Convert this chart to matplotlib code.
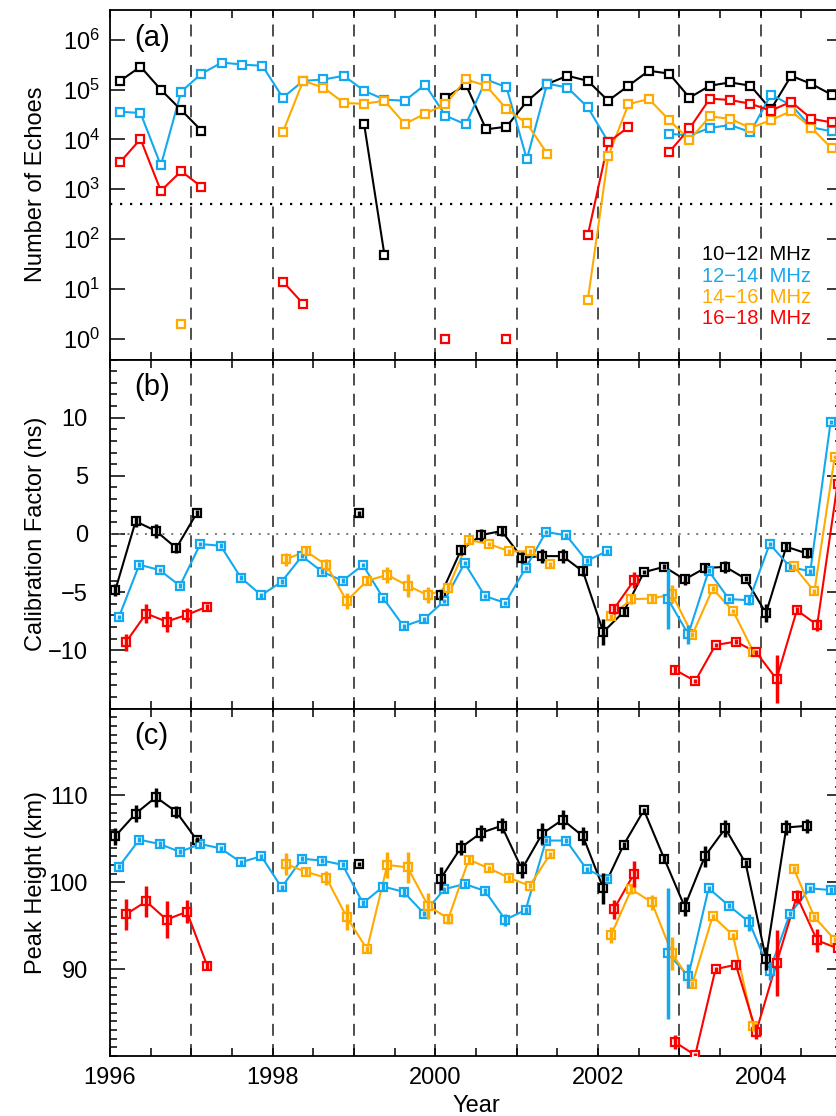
import numpy as np
import matplotlib
matplotlib.use('Agg')
import matplotlib.pyplot as plt
from matplotlib.ticker import MultipleLocator, FixedLocator, NullLocator

plt.rcParams['font.family'] = ['Liberation Sans', 'DejaVu Sans']

nan = np.nan

#%% data (quarterly bins)

quarters = [1996.125, 1996.375, 1996.625, 1996.875, 1997.125, 1997.375, 1997.625, 1997.875,
            1998.125, 1998.375, 1998.625, 1998.875, 1999.125, 1999.375, 1999.625, 1999.875,
            2000.125, 2000.375, 2000.625, 2000.875, 2001.125, 2001.375, 2001.625, 2001.875,
            2002.125, 2002.375, 2002.625, 2002.875, 2003.125, 2003.375, 2003.625, 2003.875,
            2004.125, 2004.375, 2004.625, 2004.875]

bands = ['10\u221212  MHz', '12\u221214  MHz', '14\u221216  MHz', '16\u221218  MHz']

# (a) number of echoes
echo_10_12 = [150000, 290000, 100000, 39000, 15000, nan, nan, nan,
              nan, nan, nan, nan, 20000, 47, nan, nan,
              69000, 126000, 16000, 18000, 58000, 130000, 190000, 150000,
              60000, 120000, 240000, 210000, 69000, 120000, 140000, 120000,
              40000, 190000, 130000, 79000]
echo_12_14 = [36000, 34000, 3000, 91000, 210000, 350000, 320000, 300000,
              69000, 150000, 160000, 190000, 95000, 63000, 60000, 126000,
              30000, 20000, 160000, 112000, 4000, 132000, 110000, 44000,
              9000, nan, nan, 13000, 12000, 17000, 19500, 14000,
              79000, 49000, 17500, 14500]
echo_14_16 = [nan, nan, nan, 2, nan, nan, nan, nan,
              14000, 150000, 110000, 54000, 52000, 60000, 20500, 33000,
              51000, 160000, 120000, 41000, 21000, 5200, nan, 6,
              4600, 51000, 65000, 24500, 9800, 29000, 26000, 17000,
              24500, 37000, 17000, 6600]
echo_16_18 = [3500, 10200, 930, 2300, 1120, nan, nan, nan,
              14, 5, nan, nan, nan, nan, nan, nan,
              1, nan, nan, 1, nan, nan, nan, 120,
              8700, 17800, nan, 5600, 16600, 66000, 62000, 52000,
              38000, 57000, 26000, 22000]
echo_min = 500

# (b) calibration factor (ns)
cal_10_12 = [-4.83, 1.09, 0.26, -1.21, 1.78, nan, nan, nan,
             nan, nan, nan, nan, 1.78, nan, nan, nan,
             -5.26, -1.38, -0.09, 0.26, -2.04, -1.90, -1.90, -3.22,
             -8.42, -6.70, -3.28, -2.82, -3.91, -2.93, -2.82, -3.85,
             -6.81, -1.09, -1.67, nan]
cal_10_12_err = [0.5, 0.5, 0.6, 0.45, 0.3, nan, nan, nan,
                 nan, nan, nan, nan, 0.2, nan, nan, nan,
                 0.4, 0.4, 0.5, 0.4, 0.45, 0.6, 0.6, 0.4,
                 1.15, 0.3, 0.2, 0.2, 0.5, 0.4, 0.5, 0.2,
                 0.75, 0.4, 0.4, nan]
cal_12_14 = [-7.13, -2.64, -3.10, -4.45, -0.86, -1.01, -3.76, -5.26,
             -4.11, -1.90, -3.25, -4.02, -2.67, -5.52, -7.93, -7.33,
             -5.75, -2.50, -5.34, -5.92, -2.93, 0.17, -0.11, -2.30,
             -1.49, nan, nan, -5.60, -8.62, -3.16, -5.60, -5.69,
             -0.86, -2.82, -3.22, 9.63]
cal_12_14_err = [0.2, 0.2, 0.2, 0.2, 0.2, 0.2, 0.2, 0.2,
                 0.2, 0.2, 0.2, 0.2, 0.2, 0.2, 0.2, 0.2,
                 0.2, 0.2, 0.2, 0.2, 0.2, 0.2, 0.2, 0.2,
                 0.2, nan, nan, 2.6, 0.8, 0.2, 0.2, 0.4,
                 0.2, 0.2, 0.2, 0.2]
cal_14_16 = [nan, nan, nan, nan, nan, nan, nan, nan,
             -2.18, -1.49, -2.67, -5.75, -4.02, -3.51, -4.45, -5.26,
             -4.60, -0.52, -0.86, -1.49, -1.49, -2.61, nan, nan,
             -7.07, -5.60, -5.55, -5.17, -8.65, -4.71, -6.61, -10.11,
             nan, -2.79, -4.94, 6.61]
cal_14_16_err = [nan, nan, nan, nan, nan, nan, nan, nan,
                 0.55, 0.35, 0.5, 0.7, 0.3, 0.7, 1.0, 0.7,
                 0.3, 0.3, 0.2, 0.2, 0.2, 0.2, nan, nan,
                 0.2, 0.4, 0.4, 0.8, 0.2, 0.2, 0.2, 0.2,
                 nan, 0.2, 0.2, 0.2]
cal_16_18 = [-9.31, -6.84, -7.53, -6.95, -6.24, nan, nan, nan,
             nan, nan, nan, nan, nan, nan, nan, nan,
             nan, nan, nan, nan, nan, nan, nan, nan,
             -6.44, -3.97, nan, -11.67, -12.64, -9.54, -9.25, -10.17,
             -12.47, -6.55, -7.82, 4.31]
cal_16_18_err = [0.75, 0.85, 0.9, 0.6, 0.25, nan, nan, nan,
                 nan, nan, nan, nan, nan, nan, nan, nan,
                 nan, nan, nan, nan, nan, nan, nan, nan,
                 0.45, 0.7, nan, 0.3, 0.2, 0.2, 0.2, 0.2,
                 2.1, 0.3, 0.5, 0.3]

# (c) peak height (km)
hgt_10_12 = [105.3, 107.9, 109.8, 108.1, 104.9, nan, nan, nan,
             nan, nan, nan, nan, 102.1, nan, nan, nan,
             100.4, 104.0, 105.7, 106.5, 101.5, 105.6, 107.2, 105.3,
             99.3, 104.3, 108.3, 102.7, 97.2, 103.0, 106.2, 102.2,
             91.2, 106.3, 106.5, nan]
hgt_10_12_err = [1.0, 1.0, 1.1, 0.7, 0.3, nan, nan, nan,
                 nan, nan, nan, nan, 0.2, nan, nan, nan,
                 1.3, 0.9, 0.9, 0.85, 1.0, 1.2, 1.1, 1.05,
                 1.8, 0.3, 0.3, 0.4, 1.1, 1.2, 1.0, 0.4,
                 1.3, 0.9, 0.8, nan]
hgt_12_14 = [101.8, 104.9, 104.4, 103.5, 104.4, 103.9, 102.3, 103.0,
             99.4, 102.7, 102.5, 102.0, 97.6, 99.5, 98.9, 96.4,
             99.2, 99.8, 99.0, 95.7, 96.8, 104.8, 104.8, 101.5,
             100.4, nan, nan, 91.8, 89.2, 99.3, 97.3, 95.4,
             89.8, 96.4, 99.3, 99.1]
hgt_12_14_err = [0.3, 0.3, 0.3, 0.3, 0.3, 0.3, 0.3, 0.3,
                 0.3, 0.3, 0.3, 0.3, 0.3, 0.4, 0.6, 0.3,
                 0.3, 0.3, 0.3, 0.7, 0.3, 0.3, 0.3, 0.3,
                 0.3, nan, nan, 7.5, 1.4, 0.3, 0.3, 1.0,
                 1.0, 0.3, 0.3, 0.3]
hgt_14_16 = [nan, nan, nan, nan, nan, nan, nan, nan,
             102.1, 101.2, 100.5, 96.0, 92.3, 102.0, 101.7, 97.3,
             95.8, 102.6, 101.6, 100.5, 99.6, 103.2, nan, nan,
             93.9, 99.2, 97.7, 91.8, 88.3, 96.1, 93.9, 83.4,
             nan, 101.5, 96.0, 93.4]
hgt_14_16_err = [nan, nan, nan, nan, nan, nan, nan, nan,
                 1.25, 0.5, 0.8, 1.5, 0.4, 1.5, 1.8, 1.5,
                 0.6, 0.4, 0.3, 0.3, 0.3, 0.3, nan, nan,
                 0.9, 0.5, 0.85, 1.9, 0.3, 0.3, 0.3, 0.5,
                 nan, 0.4, 0.3, 0.3]
hgt_16_18 = [96.3, 97.8, 95.7, 96.6, 90.4, nan, nan, nan,
             nan, nan, nan, nan, nan, nan, nan, nan,
             nan, nan, nan, nan, nan, nan, nan, nan,
             96.9, 101.0, nan, 81.6, 80.1, 90.0, 90.5, 82.8,
             90.7, 98.4, 93.3, 92.4]
hgt_16_18_err = [1.8, 1.8, 2.1, 1.3, 0.5, nan, nan, nan,
                 nan, nan, nan, nan, nan, nan, nan, nan,
                 nan, nan, nan, nan, nan, nan, nan, nan,
                 1.1, 1.5, nan, 0.85, 0.3, 0.3, 0.5, 0.9,
                 3.75, 0.75, 1.35, 0.5]

#%% style

colors = ['black', '#14A9EE', '#FFAA00', '#FF0000']
shifts = [-0.06, -0.015, 0.035, 0.07]   # small x offsets in (b) and (c)
t = np.array(quarters)

W_PX, H_PX = 836, 1116
fig = plt.figure(figsize=(W_PX/100, H_PX/100), dpi=100)

def add_panel(top, bot):
    # axes run past the right edge of the picture, like the cropped original
    return fig.add_axes([110/W_PX, 1 - bot/H_PX, 732/W_PX, (bot - top)/H_PX])

ax_a = add_panel(10, 359.5)
ax_b = add_panel(359.5, 708.5)
ax_c = add_panel(708.5, 1056)

def draw(ax, x, y, err=None):
    for xi, yi, ei, c in zip(x, y, err if err else [None]*4, colors):
        ax.plot(xi, yi, color=c, lw=1.5, zorder=3)
        ax.plot(xi, yi, ls='none', marker='s', ms=5.5, mew=1.6, mec=c, mfc='white', zorder=4)
        if ei is not None:
            ax.errorbar(xi, yi, yerr=ei, fmt='none', ecolor=c, elinewidth=2.5, capsize=0, zorder=5)

draw(ax_a, [t]*4, [echo_10_12, echo_12_14, echo_14_16, echo_16_18])
draw(ax_b, [t + s for s in shifts], [cal_10_12, cal_12_14, cal_14_16, cal_16_18],
     [cal_10_12_err, cal_12_14_err, cal_14_16_err, cal_16_18_err])
draw(ax_c, [t + s for s in shifts], [hgt_10_12, hgt_12_14, hgt_14_16, hgt_16_18],
     [hgt_10_12_err, hgt_12_14_err, hgt_14_16_err, hgt_16_18_err])

ax_a.axhline(echo_min, color='black', lw=1.6, ls=(0, (1, 3.5)), zorder=2)
ax_b.axhline(0, color='#777777', lw=1.4, ls=(0, (1, 3.5)), zorder=2)

for ax in [ax_a, ax_b, ax_c]:
    for yr in range(1997, 2005):
        ax.axvline(yr, color='#404040', lw=1.3, ls=(0, (6.6, 4.6)), zorder=1)
    ax.set_xlim(1996, 2005)
    ax.xaxis.set_major_locator(MultipleLocator(2))
    ax.xaxis.set_minor_locator(MultipleLocator(0.5))
    ax.tick_params(which='both', direction='in', top=True, right=True, labelsize=17)
    ax.tick_params(axis='x', which='both', length=6, width=1.1, pad=8)
    ax.tick_params(axis='y', which='major', length=11, width=1.1, pad=16)
    ax.tick_params(axis='y', which='minor', length=5, width=1.1)
    for sp in ax.spines.values():
        sp.set_linewidth(1.3)

ax_a.tick_params(labelbottom=False)
ax_b.tick_params(labelbottom=False)

ax_a.set_yscale('log')
ax_a.set_ylim(10**-0.42, 10**6.6)
ax_a.yaxis.set_major_locator(FixedLocator([1, 10, 100, 1e3, 1e4, 1e5, 1e6]))
ax_a.yaxis.set_minor_locator(NullLocator())
ax_a.tick_params(axis='y', which='major', pad=7)

ax_b.set_ylim(-15, 15)
ax_b.yaxis.set_major_locator(FixedLocator([-10, -5, 0, 5, 10]))
ax_b.yaxis.set_minor_locator(MultipleLocator(1))

ax_c.set_ylim(80, 120)
ax_c.yaxis.set_major_locator(FixedLocator([90, 100, 110]))
ax_c.yaxis.set_minor_locator(MultipleLocator(1))

ylabels = ['Number of Echoes', 'Calibration Factor (ns)', 'Peak Height (km)']
for ax, lab, tag in zip([ax_a, ax_b, ax_c], ylabels, ['(a)', '(b)', '(c)']):
    ax.set_ylabel(lab, fontsize=17)
    ax.yaxis.set_label_coords((47 - 110)/732, 0.5)
    ax.text(0.057, 0.92, tag, transform=ax.transAxes, ha='center', va='center', fontsize=21)

ax_c.set_xlabel('Year', fontsize=17, labelpad=4)

# band labels in (a)
for i, (lab, c) in enumerate(zip(bands, colors)):
    ax_a.text(0.809, 0.299 - 0.061*i, lab, color=c, transform=ax_a.transAxes,
              fontsize=14.5, va='center', ha='left')

fig.savefig('out.png', dpi=100)
